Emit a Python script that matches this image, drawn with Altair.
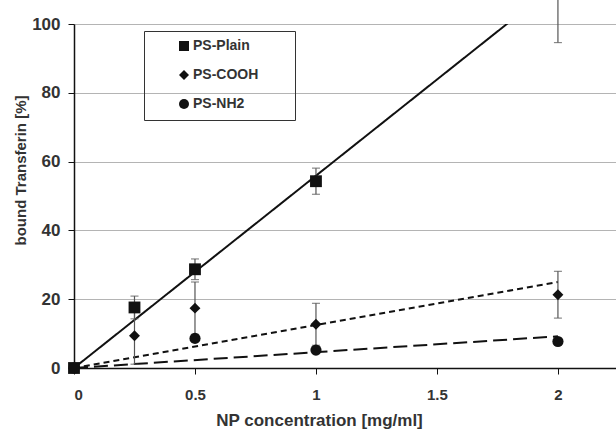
import altair as alt
import pandas as pd

# ---- data ----
series = ["PS-Plain", "PS-COOH", "PS-NH2"]
shapes = ["square", "diamond", "circle"]
marker_sizes = [140, 120, 125]

conc = [0, 0.25, 0.5, 1, 2]
plain_mean = [0, 17.6, 28.7, 54.3, 110.0]
plain_err = [0, 3.3, 3.0, 3.8, 15.4]
cooh_mean = [0, 9.4, 17.4, 12.7, 21.3]
cooh_err = [0, 8.3, 7.6, 6.1, 6.8]
nh2_conc = [0, 0.5, 1, 2]
nh2_mean = [0, 8.6, 5.2, 7.7]
nh2_err = [0, 0, 0, 0]

fit_x = [0, 2]
fit_plain = [0, 111.8]
fit_cooh = [0, 25.0]
fit_nh2 = [0, 9.2]

rows = []
for s, sz, xs, ms, es in [
    ("PS-Plain", marker_sizes[0], conc, plain_mean, plain_err),
    ("PS-COOH", marker_sizes[1], conc, cooh_mean, cooh_err),
    ("PS-NH2", marker_sizes[2], nh2_conc, nh2_mean, nh2_err),
]:
    for x, m, e in zip(xs, ms, es):
        rows.append({"series": s, "sz": sz, "x": x, "y": m, "lo": m - e, "hi": m + e, "err": e})
df = pd.DataFrame(rows)
df_err = df[df["err"] > 0]

fit_rows = []
for s, ys in [("PS-Plain", fit_plain), ("PS-COOH", fit_cooh), ("PS-NH2", fit_nh2)]:
    for x, y in zip(fit_x, ys):
        fit_rows.append({"series": s, "x": x, "y": y})
fit = pd.DataFrame(fit_rows)

FONT = "Liberation Sans"
TXT = "#333333"

xscale = alt.Scale(domain=[0, 2.24], nice=False, zero=False)
yscale = alt.Scale(domain=[0, 100], nice=False)

xaxis = alt.Axis(
    values=[0, 0.5, 1, 1.5, 2], format="~g", grid=False,
    title="NP concentration [mg/ml]", titleX=245, titleY=44,
    titleFontSize=17, labelFontSize=15,
    labelPadding=13, tickSize=6,
)
yaxis = alt.Axis(
    values=[0, 20, 40, 60, 80, 100], grid=True,
    title="bound Transferin [%]", titleX=-46, titleY=146,
    titleFontSize=15, labelFontSize=17,
    labelPadding=8, tickSize=6,
)

base = alt.Chart(df)

def fit_line(name, dash):
    return (
        alt.Chart(fit[fit["series"] == name])
        .mark_line(color="#111111", strokeWidth=2, strokeDash=dash, clip=True)
        .encode(x=alt.X("x:Q", scale=xscale, axis=xaxis), y=alt.Y("y:Q", scale=yscale, axis=yaxis))
    )

l_plain = fit_line("PS-Plain", [1, 0])
l_cooh = fit_line("PS-COOH", [6, 4])
l_nh2 = fit_line("PS-NH2", [14, 6])

err_rule = (
    alt.Chart(df_err)
    .mark_rule(color="#555555", strokeWidth=1.2)
    .encode(x="x:Q", y="lo:Q", y2="hi:Q")
)
cap_lo = alt.Chart(df_err).mark_tick(color="#555555", orient="horizontal", size=8, thickness=1.2).encode(x="x:Q", y="lo:Q")
cap_hi = alt.Chart(df_err).mark_tick(color="#555555", orient="horizontal", size=8, thickness=1.2).encode(x="x:Q", y="hi:Q")

points = (
    base.transform_filter("datum.y <= 100")
    .mark_point(filled=True, color="#111111", opacity=1)
    .encode(
        x="x:Q",
        y="y:Q",
        size=alt.Size("sz:Q", scale=None),
        shape=alt.Shape(
            "series:N",
            scale=alt.Scale(domain=series, range=shapes),
            legend=alt.Legend(
                title=".", titleOrient="right", titlePadding=25,
                titleColor="white", titleFontSize=14,
                orient="none", legendX=70, legendY=7,
                strokeColor="#333333", padding=8, symbolOffset=25,
                rowPadding=13, labelOffset=2, symbolSize=100,
                symbolFillColor="#111111", symbolStrokeColor="#111111",
            ),
        ),
    )
)

chart = (
    alt.layer(l_plain, l_cooh, l_nh2, err_rule, cap_lo, cap_hi, points)
    .properties(
        width=542, height=344,
        autosize=alt.AutoSizeParams(type="none"),
        padding={"left": 74, "top": 24, "right": 0, "bottom": 61},
        background="white",
    )
    .configure_view(stroke=None)
    .configure_axis(
        labelFont=FONT, titleFont=FONT,
        labelFontWeight="bold", titleFontWeight="bold",
        labelColor=TXT, titleColor=TXT,
        domainColor="#111111", domainWidth=1.5, tickColor="#111111", tickWidth=1,
        gridColor="#b4b4b4", gridWidth=1,
    )
    .configure_legend(labelFont=FONT, labelFontSize=14, labelFontWeight="bold", labelColor=TXT)
)

chart.save("out.html", embed_options={"renderer": "svg", "actions": False})
